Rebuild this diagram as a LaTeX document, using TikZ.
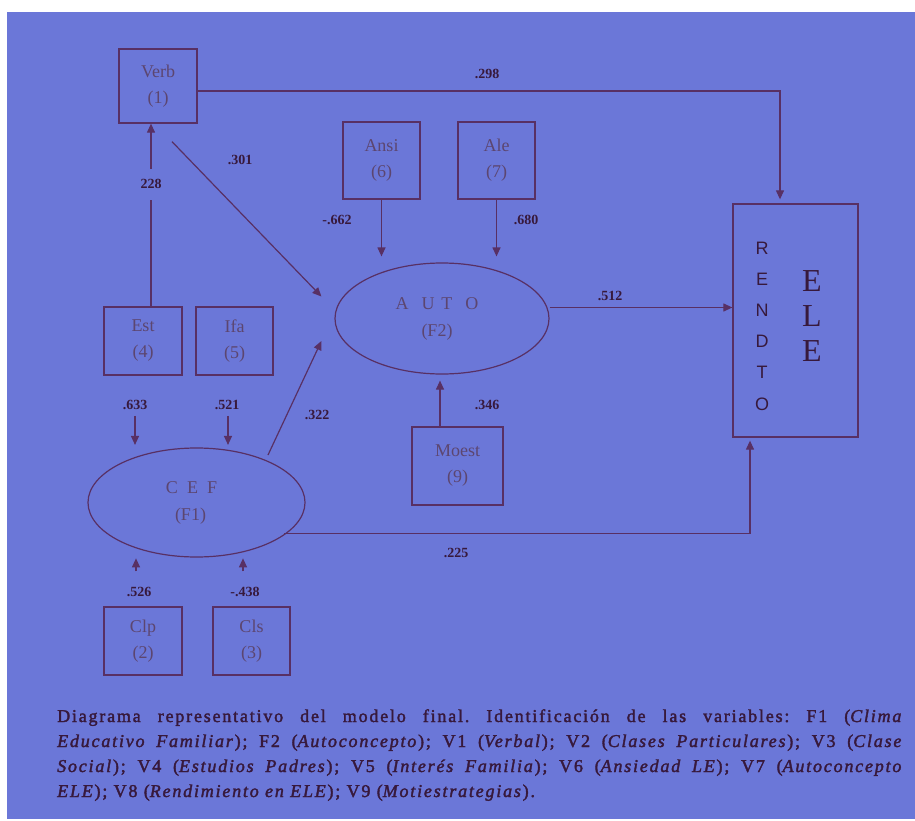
\documentclass[tikz,border=0pt]{standalone}
\usepackage{fontspec}
\setmainfont{Liberation Serif}
\newfontfamily\capfont[LetterSpace=10,FakeBold=2]{Liberation Serif}
\newfontfamily\sansf{Liberation Sans}
\usetikzlibrary{arrows.meta,calc,shapes.geometric}
\definecolor{bg}{RGB}{107,119,216}
\definecolor{ln}{RGB}{88,48,100}
\definecolor{tx}{RGB}{92,70,112}
\definecolor{lb}{RGB}{55,25,60}
\begin{document}
\begin{tikzpicture}[x=1pt,y=-1pt,
 box/.style={draw=ln,line width=1.3pt,inner sep=0pt,align=center,text=tx,font=\fontsize{18}{26}\selectfont},
 ell/.style={ellipse,draw=ln,line width=1.2pt,inner sep=0pt,align=center,text=tx,font=\fontsize{18}{27}\selectfont},
 arr/.style={draw=ln,line width=1.2pt,-{Triangle[width=8pt,length=9pt]}},
 lab/.style={text=lb,font=\bfseries\fontsize{14}{14}\selectfont,inner sep=1pt}]
\useasboundingbox (0,0) rectangle (915,821);
\fill[bg] (7,12) rectangle (915,819);

% nodes
\node[box,minimum width=78pt,minimum height=74pt] (verb) at (158,86) {Verb\\(1)};
\node[box,minimum width=77pt,minimum height=77pt] (ansi) at (381.5,160.5) {Ansi\\(6)};
\node[box,minimum width=77pt,minimum height=77pt] (ale) at (496.5,160.5) {Ale\\(7)};
\node[box,minimum width=91pt,minimum height=78pt] (moest) at (457.5,466) {Moest\\(9)};
\node[box,minimum width=78pt,minimum height=68pt] (est) at (143,341) {Est\\(4)};
\node[box,minimum width=77pt,minimum height=68pt] (ifa) at (234.5,341) {Ifa\\(5)};
\node[box,minimum width=78pt,minimum height=68pt] (clp) at (143,641) {Clp\\(2)};
\node[box,minimum width=77pt,minimum height=68pt] (cls) at (251.5,641) {Cls\\(3)};
\node[box,minimum width=125pt,minimum height=233pt] (rend) at (795.5,320.5) {};
\node[text=lb,align=center,font=\sansf\fontsize{18}{31.2}\selectfont,inner sep=0pt] (rendtxt) at (762,326) {R\\E\\N\\D\\T\\O};
\node[text=lb,align=center,font=\fontsize{32}{35}\selectfont,inner sep=0pt] (eletxt) at (812,316) {E\\L\\E};
\node[ell,minimum width=214pt,minimum height=111pt] (auto) at (442,318.5) {A\hspace{13pt}U\hspace{7pt}T\hspace{13pt}O\kern10pt\\(F2)\kern10pt};
\node[ell,minimum width=217pt,minimum height=109pt] (cef) at (196.5,502.5) {C~~E~~F\kern10pt\\(F1)\kern12pt};

% connectors
\draw[arr,shorten >=4pt] ($(verb.east)+(0,5)$) -| ($(rend.north)+(-15.5,0)$);
\draw[arr] ($(verb.south)+(14,18)$) -- ($(auto.west)+(-13,-22)$);
\draw[arr,shorten >=6pt] (ansi.south) -- (ansi.south |- auto.north);
\draw[arr,shorten >=6pt] (ale.south) -- (ale.south |- auto.north);
\draw[arr,shorten >=6pt] ($(moest.north)+(-17.5,0)$) -- ($(auto.south)+(-2,0)$);
\draw[arr] ($(auto.east)+(0,-11)$) -- ($(rend.west)+(0,-13)$);
\draw[arr] ($(cef.center)+(71.5,-47.5)$) -- ($(auto.west)+(-13,22.5)$);
\draw[arr,shorten >=3pt] ($(cef.center)+(87.5,31)$) -| ($(rend.south)+(-45.5,0)$);
\draw[arr] ($(est.north)+(8,0)$) -- ($(verb.south)+(-7,0)$)
  node[lab,fill=bg,pos=0.668,inner ysep=11pt] (l228) {228};

% labels
\node[lab] (l298) at (487,74) {.298};
\node[lab] (l301) at (240,160) {.301};
\node[lab] (l662) at (337,220) {-.662};
\node[lab] (l680) at (526,220) {.680};
\node[lab] (l512) at (610,296) {.512};
\node[lab] (l346) at (487,405) {.346};
\node[lab] (l322) at (317,415) {.322};
\node[lab] (l225) at (456,553) {.225};
\node[lab] (l633) at (135,405) {.633};
\node[lab] (l521) at (227,405) {.521};
\node[lab] (l526) at (139,592) {.526};
\node[lab] (l438) at (245,592) {-.438};

\draw[arr] ($(l633.south)+(0,5)$) -- ++(0,29);
\draw[arr] ($(l521.south)+(1,5)$) -- ++(0,29);
\draw[arr] ($(clp.north)+(-7,-35)$) -- ++(0,-13);
\draw[arr] ($(cls.north)+(-8.5,-35)$) -- ++(0,-13);

% caption
\node[anchor=base west,inner sep=0pt,text=lb] (caption) at (57,722) {\parbox[t]{846pt}{\frenchspacing\capfont\fontsize{18}{25}\selectfont
\makebox[846pt][s]{Diagrama representativo del modelo final. Identificación de las variables: F1 (\textit{Clima}}\\
\makebox[846pt][s]{\textit{Educativo Familiar}); F2 (\textit{Autoconcepto}); V1 (\textit{Verbal}); V2 (\textit{Clases Particulares}); V3 (\textit{Clase}}\\
\makebox[846pt][s]{\textit{Social}); V4 (\textit{Estudios Padres}); V5 (\textit{Interés Familia}); V6 (\textit{Ansiedad LE}); V7 (\textit{Autoconcepto}}\\
\textit{ELE}); V8 (\textit{Rendimiento en ELE}); V9 (\textit{Motiestrategias}).}};
\end{tikzpicture}
\end{document}
